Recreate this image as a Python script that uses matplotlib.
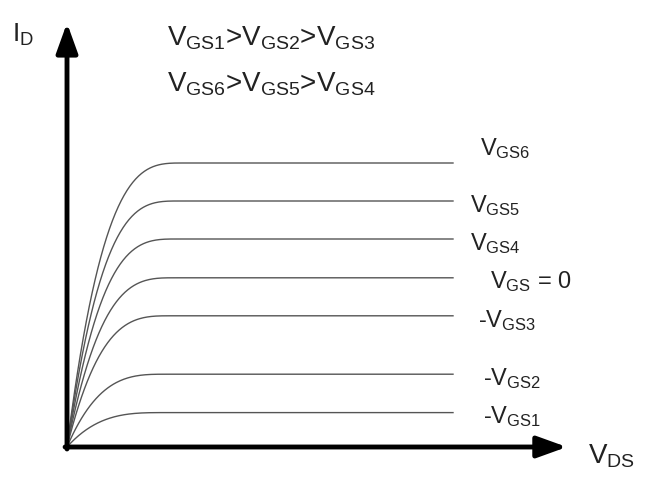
import numpy as np
import matplotlib.pyplot as plt

plt.rcParams['font.family'] = ['Liberation Sans', 'DejaVu Sans']
plt.rcParams['mathtext.fontset'] = 'custom'
plt.rcParams['mathtext.rm'] = 'Liberation Sans'
plt.rcParams['mathtext.it'] = 'Liberation Sans'

# output characteristics, arbitrary units (V_DS on x, I_D on y)
vds_max = 10.0
i_sat = [7.1, 6.15, 5.2, 4.23, 3.28, 1.82, 0.86]
v_knee = [3.0, 2.9, 2.85, 2.8, 2.7, 2.6, 2.55]
curve_labels = ['V$_{\\mathrm{GS6}}$', 'V$_{\\mathrm{GS5}}$', 'V$_{\\mathrm{GS4}}$',
                'V$_{\\mathrm{GS}}$ = 0', '-V$_{\\mathrm{GS3}}$', '-V$_{\\mathrm{GS2}}$',
                '-V$_{\\mathrm{GS1}}$']
label_x = [10.7, 10.44, 10.44, 10.96, 10.65, 10.78, 10.78]
label_y = [7.3, 5.875, 4.925, 3.975, 3.0, 1.55, 0.6]

order_lines = ['V$_{\\mathrm{GS1}}$>V$_{\\mathrm{GS2}}$>V$_{\\mathrm{GS3}}$',
               'V$_{\\mathrm{GS6}}$>V$_{\\mathrm{GS5}}$>V$_{\\mathrm{GS4}}$']

sx, sy = 38.6, 40.0  # px per unit
W, H = 645, 478
ox, oy = 67, 447

fig = plt.figure(figsize=(W / 100, H / 100), dpi=100)
ax = fig.add_axes([0, 0, 1, 1])
ax.set_xlim(-ox / sx, (W - ox) / sx)
ax.set_ylim(-(H - oy) / sy, oy / sy)
ax.axis('off')

# triode region rises into a flat saturation current
for isat, vk in zip(i_sat, v_knee):
    v = np.linspace(0, vds_max, 400)
    t = np.clip(v / vk, 0, 1)
    i = isat * (1 - (1 - t) ** 3.2)
    ax.plot(v, i, color='#555555', lw=1.0)

for txt, x, y in zip(curve_labels, label_x, label_y):
    ax.text(x, y, txt, fontsize=17, va='baseline', ha='left', color='#222222')

ax.text(2.59, 10.05, order_lines[0], fontsize=20, va='baseline', color='#222222')
ax.text(2.59, 8.875, order_lines[1], fontsize=20, va='baseline', color='#222222')

ax.text(-1.42, 10.125, 'I$_{\\mathrm{D}}$', fontsize=19, va='baseline', color='#222222')
ax.text(13.5, -0.4, 'V$_{\\mathrm{DS}}$', fontsize=20, va='baseline', color='#222222')

# axes arrows
arrow = dict(arrowstyle='-|>,head_length=1.8,head_width=0.65', lw=3.5,
             color='black', mutation_scale=10, shrinkA=0, shrinkB=0)
ax.annotate('', xy=(12.95, 0), xytext=(-0.05, 0), arrowprops=arrow)
ax.annotate('', xy=(0, 10.6), xytext=(0, -0.05), arrowprops=arrow)

fig.savefig('out.png', dpi=100, facecolor='white')
